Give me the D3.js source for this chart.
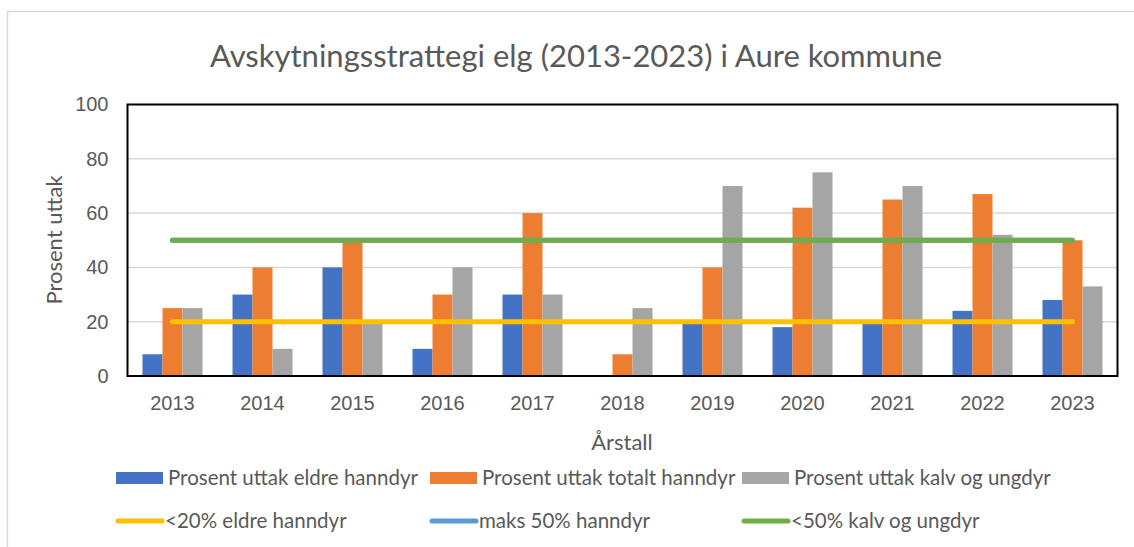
<!DOCTYPE html>
<html lang="en">
    <head>
        <meta charset="utf-8">
        <title>Avskytningsstrattegi elg</title>
        <script src="https://d3js.org/d3.v7.min.js"></script>
        <style type="text/css">
          body{
            margin: 0;
            background: #ffffff;
          }
          svg{
            display: block;
            font-family: Lato, "Open Sans", sans-serif;
          }
          text{
            fill: #595959;
          }
        </style>
    </head>
    <body>
        <script type="text/javascript">

        const w = 1134;
        const h = 547;

        // data
        const years = ["2013", "2014", "2015", "2016", "2017", "2018", "2019", "2020", "2021", "2022", "2023"];
        const eldreHanndyr = [8, 30, 40, 10, 30, 0, 20, 18, 20, 24, 28];
        const totaltHanndyr = [25, 40, 50, 30, 60, 8, 40, 62, 65, 67, 50];
        const kalvUngdyr = [25, 10, 20, 40, 30, 25, 70, 75, 70, 52, 33];
        const yTicks = [0, 20, 40, 60, 80, 100];

        const barSeries = [
          {name: "Prosent uttak eldre hanndyr", values: eldreHanndyr, color: "#4472C4"},
          {name: "Prosent uttak totalt hanndyr", values: totaltHanndyr, color: "#ED7D31"},
          {name: "Prosent uttak kalv og ungdyr", values: kalvUngdyr, color: "#A5A5A5"}
        ];
        // target lines (one value per year, all flat)
        const lineSeries = [
          {name: "<20% eldre hanndyr", values: years.map(() => 20), color: "#FFC000"},
          {name: "maks 50% hanndyr", values: years.map(() => 50), color: "#5B9BD5"},
          {name: "<50% kalv og ungdyr", values: years.map(() => 50), color: "#70AD47"}
        ];

        const plot = {left: 127.5, right: 1117.5, top: 104.5, bottom: 376};

        const svg = d3.select("body").append("svg")
                      .attr("width", w)
                      .attr("height", h);

        //outer chart frame
        svg.append("rect")
           .attr("x", 7.5).attr("y", 11.5)
           .attr("width", w + 20).attr("height", h + 20)
           .attr("fill", "none")
           .attr("stroke", "#D9D9D9")
           .attr("stroke-width", 1.5);

        svg.append("text")
           .attr("x", 576).attr("y", 67)
           .attr("text-anchor", "middle")
           .attr("font-size", "31px")
           .text("Avskytningsstrattegi elg (2013-2023) i Aure kommune");

        //scales
        const x0 = d3.scaleBand()
                     .domain(years)
                     .range([plot.left, plot.right])
                     .paddingInner(1/3)
                     .paddingOuter(1/6);
        const x1 = d3.scaleBand()
                     .domain(barSeries.map(d => d.name))
                     .range([0, x0.bandwidth()]);
        const y = d3.scaleLinear()
                    .domain([0, 100])
                    .range([plot.bottom, plot.top]);

        //gridlines
        svg.append("g")
           .selectAll("line")
           .data(yTicks.slice(1, -1))
           .join("line")
           .attr("x1", plot.left).attr("x2", plot.right)
           .attr("y1", d => y(d)).attr("y2", d => y(d))
           .attr("stroke", "#D9D9D9")
           .attr("stroke-width", 1.5);

        //bars
        const groups = svg.append("g")
           .selectAll("g")
           .data(barSeries)
           .join("g")
           .attr("fill", d => d.color);
        groups.selectAll("rect")
           .data(s => s.values.map((v, i) => ({year: years[i], val: v, name: s.name})))
           .join("rect")
           .attr("x", d => x0(d.year) + x1(d.name))
           .attr("width", x1.bandwidth())
           .attr("y", d => y(d.val))
           .attr("height", d => y(0) - y(d.val));

        //target lines
        const line = d3.line()
                       .x((d, i) => x0(years[i]) + x0.bandwidth() / 2)
                       .y(d => y(d));
        svg.append("g")
           .selectAll("path")
           .data(lineSeries)
           .join("path")
           .attr("d", d => line(d.values))
           .attr("fill", "none")
           .attr("stroke", d => d.color)
           .attr("stroke-width", 5)
           .attr("stroke-linecap", "round");

        //plot border
        svg.append("rect")
           .attr("x", plot.left).attr("y", plot.top)
           .attr("width", plot.right - plot.left)
           .attr("height", plot.bottom - plot.top)
           .attr("fill", "none")
           .attr("stroke", "#000000")
           .attr("stroke-width", 2);

        //axes
        const yAxis = svg.append("g")
           .attr("transform", `translate(${plot.left},0)`)
           .call(d3.axisLeft(y).tickValues(yTicks).tickSize(0).tickPadding(19));
        yAxis.select(".domain").remove();
        yAxis.selectAll("text").attr("font-size", "20px").attr("font-family", null);

        const xAxis = svg.append("g")
           .attr("transform", `translate(0,${plot.bottom})`)
           .call(d3.axisBottom(x0).tickSize(0).tickPadding(20));
        xAxis.select(".domain").remove();
        xAxis.selectAll("text").attr("font-size", "20px").attr("font-family", null);

        svg.append("text")
           .attr("x", 622).attr("y", 450)
           .attr("text-anchor", "middle")
           .attr("font-size", "22px")
           .text("Årstall");

        svg.append("text")
           .attr("transform", "translate(62,240) rotate(-90)")
           .attr("text-anchor", "middle")
           .attr("font-size", "22px")
           .text("Prosent uttak");

        //legend
        const legX = [116, 430, 742];
        const bars = svg.append("g")
           .selectAll("g")
           .data(barSeries)
           .join("g")
           .attr("transform", (d, i) => `translate(${legX[i]},478)`);
        bars.append("rect")
           .attr("x", 0).attr("y", -6)
           .attr("width", 47).attr("height", 12)
           .attr("fill", d => d.color);
        bars.append("text")
           .attr("x", 52).attr("y", 7)
           .attr("font-size", "20.5px")
           .text(d => d.name);

        const lines = svg.append("g")
           .selectAll("g")
           .data(lineSeries)
           .join("g")
           .attr("transform", (d, i) => `translate(${legX[i]},521)`);
        lines.append("line")
           .attr("x1", 2).attr("x2", 46)
           .attr("stroke", d => d.color)
           .attr("stroke-width", 5)
           .attr("stroke-linecap", "round");
        lines.append("text")
           .attr("x", 49).attr("y", 7)
           .attr("font-size", "20.5px")
           .text(d => d.name);

        </script>
    </body>
</html>
